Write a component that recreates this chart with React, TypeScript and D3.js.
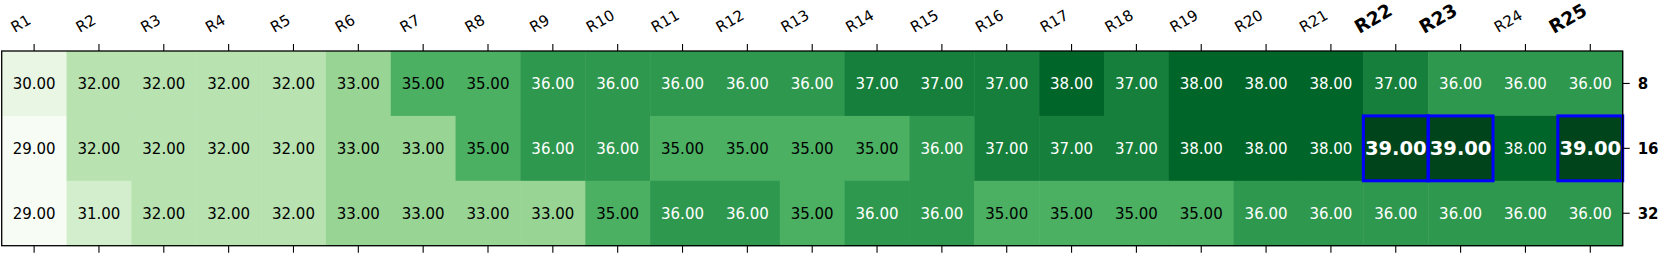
import React from "react";
import * as d3 from "d3";

const columns = ["R1","R2","R3","R4","R5","R6","R7","R8","R9","R10","R11","R12","R13","R14","R15","R16","R17","R18","R19","R20","R21","R22","R23","R24","R25"];
const rows = ["8", "16", "32"];
const row8 = [30,32,32,32,32,33,35,35,36,36,36,36,36,37,37,37,38,37,38,38,38,37,36,36,36];
const row16 = [29,32,32,32,32,33,33,35,36,36,35,35,35,35,36,37,37,37,38,38,38,39,39,38,39];
const row32 = [29,31,32,32,32,33,33,33,33,35,36,36,35,36,36,35,35,35,35,36,36,36,36,36,36];
const boldColumns = ["R22", "R23", "R25"];
const highlighted = [
  { row: "16", col: "R22" },
  { row: "16", col: "R23" },
  { row: "16", col: "R25" },
];

const values = [row8, row16, row32];

const greens = ["#f7fcf5","#e5f5e0","#c7e9c0","#a1d99b","#74c476","#41ab5d","#238b45","#006d2c","#00441b"];
const colorScale = d3
  .scaleLinear<string>()
  .domain(greens.map((_, i) => 29 + (10 * i) / (greens.length - 1)))
  .range(greens)
  .interpolate(d3.interpolateRgb)
  .clamp(true);

const FONT = "DejaVu Sans, sans-serif";

let _ctx: CanvasRenderingContext2D | null = null;
function measure(text: string, size: number, bold: boolean): number {
  if (typeof document === "undefined") return text.length * size * 0.65;
  if (!_ctx) _ctx = document.createElement("canvas").getContext("2d");
  if (!_ctx) return text.length * size * 0.65;
  _ctx.font = `${bold ? "bold " : ""}${size}px "DejaVu Sans"`;
  return _ctx.measureText(text).width;
}

export default function App() {
  const W = 1660, H = 255;
  const x0 = 1.7, x1 = 1622.7, y0 = 51, y1 = 245.7;
  const x = d3.scaleBand<string>().domain(columns).range([x0, x1]).padding(0);
  const y = d3.scaleBand<string>().domain(rows).range([y0, y1]).padding(0);
  const bw = x.bandwidth(), bh = y.bandwidth();
  const isHi = (r: string, c: string) => highlighted.some((h) => h.row === r && h.col === c);
  const cos30 = Math.sqrt(3) / 2;

  return (
    <svg width={W} height={H} style={{ position: "absolute", left: 0, top: 0 }} fontFamily={FONT}>
      {rows.map((r, ri) =>
        columns.map((c, ci) => (
          <rect key={r + c} x={x(c)!} y={y(r)!} width={bw + 0.5} height={bh + 0.5} fill={colorScale(values[ri][ci])} />
        ))
      )}
      {rows.map((r, ri) =>
        columns.map((c, ci) => {
          const v = values[ri][ci];
          const hi = isHi(r, c);
          return (
            <text
              key={"t" + r + c}
              x={x(c)! + bw / 2}
              y={y(r)! + bh / 2}
              dy="0.36em"
              textAnchor="middle"
              fontSize={hi ? 19.5 : 15}
              fontWeight={hi ? "bold" : "normal"}
              fill={v >= 36 ? "#ffffff" : "#000000"}
            >
              {v.toFixed(2)}
            </text>
          );
        })
      )}
      {highlighted.map((h) => (
        <rect
          key={"h" + h.row + h.col}
          x={x(h.col)!}
          y={y(h.row)!}
          width={bw}
          height={bh}
          fill="none"
          stroke="#0000ff"
          strokeWidth={3}
        />
      ))}
      <rect x={x0} y={y0} width={x1 - x0} height={y1 - y0} fill="none" stroke="#000" strokeWidth={1.3} />
      {columns.map((c) => {
        const cx = x(c)! + bw / 2;
        const bold = boldColumns.includes(c);
        const fs = bold ? 18.5 : 15;
        const w = measure(c, fs, bold);
        const ex = cx - 2;
        const sx = ex - w * cos30;
        const sy = bold ? 34 : 33;
        return (
          <g key={"xt" + c}>
            <line x1={cx} x2={cx} y1={y0 - 7} y2={y0} stroke="#000" strokeWidth={1.1} />
            <line x1={cx} x2={cx} y1={y1} y2={y1 + 7} stroke="#000" strokeWidth={1.1} />
            <text
              x={sx}
              y={sy}
              textAnchor="start"
              fontSize={fs}
              fontWeight={bold ? "bold" : "normal"}
              transform={`rotate(-30 ${sx} ${sy})`}
            >
              {c}
            </text>
          </g>
        );
      })}
      {rows.map((r) => {
        const cy = y(r)! + bh / 2;
        return (
          <g key={"yt" + r}>
            <line x1={x1} x2={x1 + 7} y1={cy} y2={cy} stroke="#000" strokeWidth={1.1} />
            <text x={x1 + 15} y={cy} dy="0.36em" fontSize={15} fontWeight="bold">
              {r}
            </text>
          </g>
        );
      })}
    </svg>
  );
}
